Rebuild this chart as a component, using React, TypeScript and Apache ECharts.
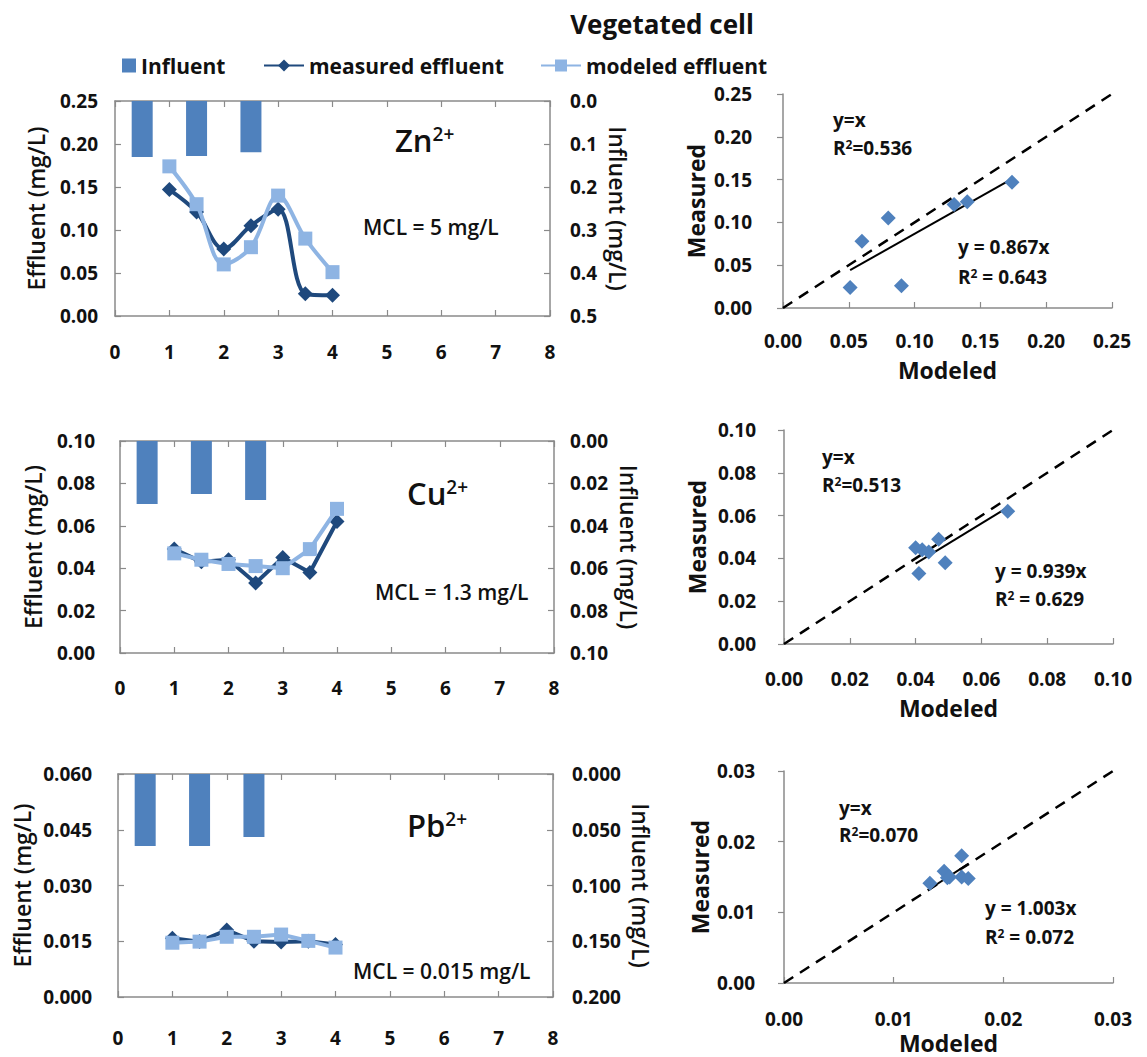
import React, { useEffect, useRef } from "react";
import * as echarts from "echarts";

// ---------------- data ----------------
const times = [1, 1.5, 2, 2.5, 3, 3.5, 4];
const influentTimes = [0.5, 1.5, 2.5];

const znInfluent = [0.13, 0.128, 0.119];
const znMeasured = [0.147, 0.121, 0.078, 0.105, 0.124, 0.026, 0.024];
const znModeled = [0.174, 0.13, 0.06, 0.08, 0.14, 0.09, 0.051];

const cuInfluent = [0.0297, 0.025, 0.0278];
const cuMeasured = [0.049, 0.043, 0.044, 0.033, 0.045, 0.038, 0.062];
const cuModeled = [0.047, 0.044, 0.042, 0.041, 0.04, 0.049, 0.068];

const pbInfluent = [0.0646, 0.0646, 0.0565];
const pbMeasured = [0.0158, 0.0149, 0.018, 0.015, 0.0148, 0.015, 0.0141];
const pbModeled = [0.0146, 0.0149, 0.0162, 0.0162, 0.0168, 0.0151, 0.0133];

const ions = ["Zn", "Cu", "Pb"];
const mclTexts = ["MCL = 5 mg/L", "MCL = 1.3 mg/L", "MCL = 0.015 mg/L"];
const fitSlopes = [0.867, 0.939, 1.003];
const fitR2 = ["0.643", "0.629", "0.072"];
const identityR2 = ["0.536", "0.513", "0.070"];

// axis ranges / tick steps / label decimals
const timeMax = 8;
const timeStep = 1;
const effluentMax = [0.25, 0.1, 0.06];
const effluentStep = [0.05, 0.02, 0.015];
const effluentDecimals = [2, 2, 3];
const influentMax = [0.5, 0.1, 0.2];
const influentStep = [0.1, 0.02, 0.05];
const influentDecimals = [1, 2, 3];
const scatterMax = [0.25, 0.1, 0.03];
const scatterStep = [0.05, 0.02, 0.01];
const scatterDecimals = [2, 2, 2];

const influentSets = [znInfluent, cuInfluent, pbInfluent];
const measuredSets = [znMeasured, cuMeasured, pbMeasured];
const modeledSets = [znModeled, cuModeled, pbModeled];

// ---------------- styles / layout ----------------
const FONT = "'Open Sans', 'Noto Sans', sans-serif";
const AXIS_COLOR = "#8a8a8a";
const BAR_COLOR = "#4F81BD";
const DARK = "#1F497D";
const LIGHT = "#8EB4E3";
const TEXT = "#111";

const lineGrids = [
  { left: 115, top: 101, width: 435, height: 215 },
  { left: 120, top: 441, width: 434, height: 212 },
  { left: 118, top: 774, width: 435, height: 223 },
];
const scGrids = [
  { left: 783, top: 94, width: 329, height: 214 },
  { left: 784, top: 430, width: 329, height: 214 },
  { left: 784, top: 771, width: 329, height: 212 },
];
const lineLayout = [
  { yLabelMargin: 17, rLabelMargin: 20, xLabelMargin: 26, yNameGap: 68, rNameGap: 56, smooth: 0.35 },
  { yLabelMargin: 25, rLabelMargin: 16, xLabelMargin: 25, yNameGap: 76, rNameGap: 63, smooth: false },
  { yLabelMargin: 26, rLabelMargin: 19, xLabelMargin: 31, yNameGap: 85, rNameGap: 76, smooth: false },
];
const scLayout = [
  { yLabelMargin: 31, xLabelMargin: 23, yNameGap: 76, xNameGap: 50 },
  { yLabelMargin: 28, xLabelMargin: 25, yNameGap: 76, xNameGap: 52 },
  { yLabelMargin: 29, xLabelMargin: 26, yNameGap: 73, xNameGap: 48 },
];
const ionPos = [
  [395, 140],
  [407, 493],
  [407, 825],
];
const mclPos = [
  [363, 227],
  [375, 592],
  [353, 971],
];
const idPos = [
  [833, 120, 148],
  [822, 457, 485],
  [839, 808, 835],
];
const fitPos = [
  [958, 247, 277],
  [995, 571, 599],
  [985, 908, 937],
];

const tickLabel = (dec: number) => ({
  fontFamily: FONT,
  fontWeight: "bold" as const,
  fontSize: 19,
  color: TEXT,
  formatter: (v: number) => v.toFixed(dec),
});

function buildOption() {
  const grid: any[] = [];
  const xAxis: any[] = [];
  const yAxis: any[] = [];
  const series: any[] = [];
  const graphic: any[] = [];

  const axisLine = { show: true, onZero: false, lineStyle: { color: AXIS_COLOR, width: 1.5 } };
  const tickIn = { show: true, inside: true, length: 6, lineStyle: { color: AXIS_COLOR, width: 1.2 } };
  const tickOut = { show: true, inside: false, length: 6, lineStyle: { color: AXIS_COLOR, width: 1.2 } };

  for (let i = 0; i < 3; i++) grid.push({ ...lineGrids[i], containLabel: false });
  for (let i = 0; i < 3; i++) grid.push({ ...scGrids[i], containLabel: false });

  // x axes: 0-2 bottom (line), 3-5 top (line), 6-8 scatter
  for (let i = 0; i < 3; i++) {
    xAxis.push({
      type: "value",
      gridIndex: i,
      position: "bottom",
      min: 0,
      max: timeMax,
      interval: timeStep,
      axisLine,
      axisTick: tickIn,
      axisLabel: { ...tickLabel(0), margin: lineLayout[i].xLabelMargin },
      splitLine: { show: false },
    });
  }
  for (let i = 0; i < 3; i++) {
    xAxis.push({
      type: "value",
      gridIndex: i,
      position: "top",
      min: 0,
      max: timeMax,
      interval: timeStep,
      axisLine,
      axisTick: tickIn,
      axisLabel: { show: false },
      splitLine: { show: false },
    });
  }
  for (let i = 0; i < 3; i++) {
    xAxis.push({
      type: "value",
      gridIndex: 3 + i,
      position: "bottom",
      min: 0,
      max: scatterMax[i],
      interval: scatterStep[i],
      axisLine,
      axisTick: tickIn,
      axisLabel: { ...tickLabel(scatterDecimals[i]), margin: scLayout[i].xLabelMargin },
      splitLine: { show: false },
      name: "Modeled",
      nameLocation: "middle",
      nameGap: scLayout[i].xNameGap,
      nameTextStyle: { fontFamily: FONT, fontWeight: "bold", fontSize: 23, color: TEXT },
    });
  }

  // y axes: 0-2 left effluent, 3-5 right influent (inverse), 6-8 scatter
  for (let i = 0; i < 3; i++) {
    yAxis.push({
      type: "value",
      gridIndex: i,
      position: "left",
      min: 0,
      max: effluentMax[i],
      interval: effluentStep[i],
      axisLine,
      axisTick: tickIn,
      axisLabel: { ...tickLabel(effluentDecimals[i]), margin: lineLayout[i].yLabelMargin },
      splitLine: { show: false },
      name: "Effluent (mg/L)",
      nameLocation: "middle",
      nameGap: lineLayout[i].yNameGap,
      nameTextStyle: { fontFamily: FONT, fontWeight: 600, fontSize: 23, color: TEXT },
    });
  }
  for (let i = 0; i < 3; i++) {
    yAxis.push({
      type: "value",
      gridIndex: i,
      position: "right",
      inverse: true,
      min: 0,
      max: influentMax[i],
      interval: influentStep[i],
      axisLine,
      axisTick: tickIn,
      axisLabel: { ...tickLabel(influentDecimals[i]), margin: lineLayout[i].rLabelMargin },
      splitLine: { show: false },
      name: "Influent (mg/L)",
      nameLocation: "middle",
      nameRotate: -90,
      nameGap: lineLayout[i].rNameGap,
      nameTextStyle: { fontFamily: FONT, fontWeight: 600, fontSize: 23, color: TEXT },
    });
  }
  for (let i = 0; i < 3; i++) {
    yAxis.push({
      type: "value",
      gridIndex: 3 + i,
      position: "left",
      min: 0,
      max: scatterMax[i],
      interval: scatterStep[i],
      axisLine,
      axisTick: tickOut,
      axisLabel: { ...tickLabel(scatterDecimals[i]), margin: scLayout[i].yLabelMargin },
      splitLine: { show: false },
      name: "Measured",
      nameLocation: "middle",
      nameGap: scLayout[i].yNameGap,
      nameTextStyle: { fontFamily: FONT, fontWeight: "bold", fontSize: 23, color: TEXT },
    });
  }

  // series
  for (let i = 0; i < 3; i++) {
    series.push({
      name: "Influent",
      type: "bar",
      xAxisIndex: i,
      yAxisIndex: 3 + i,
      barWidth: 21,
      itemStyle: { color: BAR_COLOR },
      data: influentTimes.map((t, k) => [t, influentSets[i][k]]),
      z: 1,
    });
    series.push({
      name: "measured effluent",
      type: "line",
      xAxisIndex: i,
      yAxisIndex: i,
      smooth: lineLayout[i].smooth,
      symbol: "diamond",
      symbolSize: 15,
      itemStyle: { color: DARK },
      lineStyle: { color: DARK, width: 4 },
      data: times.map((t, k) => [t, measuredSets[i][k]]),
      z: 3,
    });
    series.push({
      name: "modeled effluent",
      type: "line",
      xAxisIndex: i,
      yAxisIndex: i,
      smooth: lineLayout[i].smooth,
      symbol: "rect",
      symbolSize: 14,
      itemStyle: { color: LIGHT },
      lineStyle: { color: LIGHT, width: 4 },
      data: times.map((t, k) => [t, modeledSets[i][k]]),
      z: 4,
    });

    const mod = modeledSets[i];
    const meas = measuredSets[i];
    const lo = Math.min(...mod);
    const hi = Math.max(...mod);
    series.push({
      name: "y=x",
      type: "line",
      xAxisIndex: 6 + i,
      yAxisIndex: 6 + i,
      symbol: "none",
      lineStyle: { color: "#000", width: 2.5, type: [11, 8] },
      data: [
        [0, 0],
        [scatterMax[i], scatterMax[i]],
      ],
      z: 2,
    });
    series.push({
      name: "fit",
      type: "line",
      xAxisIndex: 6 + i,
      yAxisIndex: 6 + i,
      symbol: "none",
      lineStyle: { color: "#000", width: 2 },
      data: [
        [lo, lo * fitSlopes[i]],
        [hi, hi * fitSlopes[i]],
      ],
      z: 3,
    });
    series.push({
      name: "points",
      type: "scatter",
      xAxisIndex: 6 + i,
      yAxisIndex: 6 + i,
      symbol: "diamond",
      symbolSize: 15,
      itemStyle: { color: BAR_COLOR, opacity: 1 },
      data: mod.map((m, k) => [m, meas[k]]),
      z: 4,
    });
  }

  // annotation texts
  const sup = (x: number, y: number, main: string, s: string, rest: string, size: number, supSize: number, weight: any) => {
    let text = `{m|${main}}{s|${s}}`;
    if (rest) text += `{m|${rest}}`;
    return {
      type: "text",
      x,
      y,
      silent: true,
      style: {
        text,
        align: "left",
        verticalAlign: "middle",
        rich: {
          m: { fontFamily: FONT, fontSize: size, fontWeight: weight, fill: TEXT, lineHeight: size },
          s: { fontFamily: FONT, fontSize: supSize, fontWeight: weight, fill: TEXT, lineHeight: supSize, verticalAlign: "top" },
        },
      },
    };
  };
  const plain = (x: number, y: number, text: string, size: number, weight: any) => ({
    type: "text",
    x,
    y,
    silent: true,
    style: { text, align: "left", verticalAlign: "middle", fontFamily: FONT, fontSize: size, fontWeight: weight, fill: TEXT },
  });

  for (let i = 0; i < 3; i++) {
    graphic.push(sup(ionPos[i][0], ionPos[i][1], ions[i], "2+", "", 31, 19, 600));
    graphic.push(plain(mclPos[i][0], mclPos[i][1], mclTexts[i], 21, 600));
    graphic.push(plain(idPos[i][0], idPos[i][1], "y=x", 19, "bold"));
    graphic.push(sup(idPos[i][0], idPos[i][2], "R", "2", "=" + identityR2[i], 19, 12, "bold"));
    graphic.push(plain(fitPos[i][0], fitPos[i][1], `y = ${fitSlopes[i].toFixed(3)}x`, 19, "bold"));
    graphic.push(sup(fitPos[i][0], fitPos[i][2], "R", "2", " = " + fitR2[i], 19, 12, "bold"));
  }

  const legendText = { fontFamily: FONT, fontWeight: "bold" as const, fontSize: 21, color: TEXT };

  return {
    animation: false,
    backgroundColor: "#fff",
    title: {
      text: "Vegetated cell",
      left: 657,
      top: 6,
      textAlign: "center",
      textStyle: { fontFamily: FONT, fontWeight: "bold", fontSize: 26, color: TEXT },
    },
    legend: [
      {
        data: [{ name: "Influent", icon: "rect" }],
        left: 122,
        top: 55,
        padding: 0,
        itemWidth: 14,
        itemHeight: 14,
        selectedMode: false,
        textStyle: legendText,
      },
      {
        data: ["measured effluent"],
        left: 263,
        top: 55,
        padding: 0,
        itemWidth: 40,
        itemHeight: 15,
        selectedMode: false,
        textStyle: legendText,
      },
      {
        data: ["modeled effluent"],
        left: 540,
        top: 55,
        padding: 0,
        itemWidth: 40,
        itemHeight: 15,
        selectedMode: false,
        textStyle: legendText,
      },
    ],
    grid,
    xAxis,
    yAxis,
    series,
    graphic,
  };
}

export default function App() {
  const ref = useRef<HTMLDivElement>(null);
  useEffect(() => {
    if (!ref.current) return;
    const chart = echarts.init(ref.current, null, { renderer: "svg" });
    chart.setOption(buildOption() as any);
    return () => chart.dispose();
  }, []);
  return (
    <div
      ref={ref}
      style={{ position: "absolute", left: 0, top: 0, width: 1147, height: 1057, background: "#fff" }}
    />
  );
}
